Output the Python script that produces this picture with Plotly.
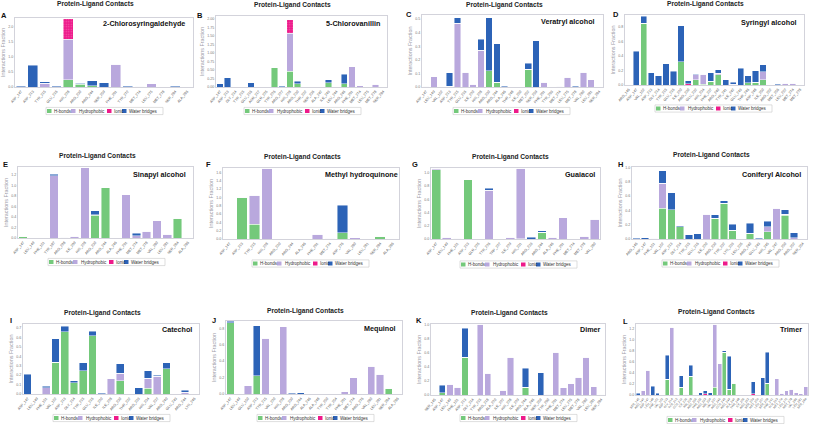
import plotly.graph_objects as go

W, H = 813, 424
series_names = ['H-bonds', 'Hydrophobic', 'Ionic', 'Water bridges']
series_colors = ['#74c97b', '#b9a8dd', '#ee1a8a', '#2c63b7']
compound_names = ['2-Chlorosyringaldehyde', '5-Chlorovanillin', 'Veratryl alcohol', 'Syringyl alcohol',
                  'Sinapyl alcohol', 'Methyl hydroquinone', 'Guaiacol', 'Coniferyl Alcohol',
                  'Catechol', 'Mequinol', 'Dimer', 'Trimer']
panel_letters = ['A', 'B', 'C', 'D', 'E', 'F', 'G', 'H', 'I', 'J', 'K', 'L']
chart_title = 'Protein-Ligand Contacts'
y_title = 'Interactions Fraction'

# ---------------- data ----------------
A_res = ['ASP_147', 'ASP_213', 'TYR_215', 'GLU_216', 'HIS_228', 'ARG_230', 'ARG_244', 'SER_259', 'PHE_261',
         'TYR_272', 'MET_274', 'LEU_275', 'MET_278', 'SER_284', 'ALA_286']
A_hb = [0, 0, 0, 0, 0.24, 0.09, 0.04, 0, 0, 0, 0, 0, 0, 0, 0]
A_hp = [0, 0, 0.12, 0, 1.34, 0.02, 0, 0, 0.76, 0, 0.02, 0.10, 0, 0, 0]
A_io = [0, 0, 0, 0, 0.67, 0, 0, 0, 0, 0, 0, 0, 0, 0, 0]
A_wb = [0.03, 0.72, 0.05, 0.02, 0, 0.01, 0.17, 0.14, 0, 0.02, 0, 0, 0, 0.02, 0]

B_res = ['ASP_147', 'ASP_213', 'GLY_214', 'TYR_215', 'GLU_216', 'ASN_217', 'GLN_225', 'TYR_226', 'ARG_227',
         'HIS_228', 'ARG_230', 'THR_232', 'SER_236', 'ALA_242', 'ILE_243', 'LEU_244', 'ARG_246', 'PHE_261',
         'MET_274', 'LEU_275', 'MET_278', 'SER_284']
B_hb = [0, 0, 0, 0, 0, 0, 0, 0.56, 0, 0.47, 0.10, 0, 0, 0, 0.12, 0, 0.10, 0, 0, 0, 0, 0]
B_hp = [0, 0, 0, 0, 0, 0, 0, 0, 0, 1.11, 0, 0, 0, 0.01, 0, 0, 0, 0.60, 0.04, 0.01, 0.08, 0]
B_io = [0, 0, 0, 0, 0, 0, 0, 0, 0, 0.40, 0, 0, 0, 0, 0, 0, 0, 0, 0, 0, 0, 0]
B_wb = [0.10, 0.27, 0.01, 0, 0.13, 0, 0, 0, 0.02, 0, 0.07, 0, 0, 0, 0.10, 0, 0.27, 0, 0, 0, 0, 0]

C_res = ['ASP_147', 'LEU_149', 'VAL_152', 'ASP_213', 'TYR_215', 'GLU_216', 'ILE_220', 'HIS_228', 'ARG_230',
         'ARG_244', 'ALA_246', 'THR_248', 'ILE_250', 'MET_252', 'SER_259', 'PHE_261', 'TYR_263', 'MET_274',
         'LEU_275', 'MET_278', 'VAL_280', 'LEU_281', 'SER_284']
C_hb = [0, 0, 0, 0.005, 0, 0, 0, 0, 0.12, 0.035, 0, 0, 0, 0.13, 0, 0, 0, 0, 0, 0, 0, 0, 0]
C_hp = [0.005, 0.075, 0, 0, 0.47, 0.11, 0.02, 0.27, 0, 0, 0, 0, 0, 0, 0, 0.035, 0, 0.005, 0.07, 0, 0.11, 0.055, 0]
C_io = [0] * 23
C_wb = [0, 0, 0, 0.10, 0.04, 0, 0, 0.08, 0.39, 0.285, 0.005, 0, 0, 0.045, 0.34, 0, 0, 0, 0, 0.005, 0, 0, 0]

D_res = ['ARG_146', 'ASP_147', 'VAL_152', 'ASP_213', 'GLY_214', 'TYR_215', 'GLU_216', 'ILE_220', 'ARG_230',
         'GLU_232', 'HIS_234', 'PHE_237', 'ARG_240', 'TYR_241', 'ILE_242', 'GLU_243', 'THR_246', 'ASP_248',
         'ILE_250', 'ARG_252', 'MET_256', 'LEU_257', 'MET_274', 'MET_278']
D_hb = [0, 0, 0.85, 0, 0, 0, 0, 0.32, 0, 0.07, 0.01, 0.05, 0.14, 0, 0, 0, 0.03, 0.04, 0.07, 0, 0, 0, 0, 0]
D_hp = [0, 0, 0, 0, 0, 0, 0, 0, 0, 0.07, 0.14, 0, 0.02, 0, 0.01, 0, 0, 0, 0.11, 0.005, 0, 0.025, 0.025, 0]
D_io = [0, 0, 0, 0, 0, 0, 0, 0, 0.02, 0, 0, 0, 0, 0, 0, 0, 0, 0, 0, 0, 0, 0, 0, 0]
D_wb = [0, 0.46, 0.09, 0.165, 0.13, 0.29, 0.19, 0.49, 0.035, 0.01, 0, 0.115, 0.05, 0.07, 0.03, 0.23, 0.10,
        0.155, 0.10, 0, 0.01, 0, 0, 0]

E_res = ['ASP_147', 'LEU_149', 'PHE_151', 'TYR_187', 'ARG_208', 'ILE_209', 'HIS_228', 'ARG_230', 'ARG_244',
         'ALA_246', 'PHE_261', 'MET_274', 'MET_278', 'VAL_280', 'LEU_281', 'SER_284', 'ALA_286']
E_hb = [0.03, 0, 0, 0, 0, 0, 0, 0.43, 0.96, 0, 0, 0, 0, 0, 0, 0.38, 0]
E_hp = [0, 0, 0, 1.18, 0.01, 0.035, 1.34, 0.01, 0, 0, 0.82, 0.04, 0.13, 0.33, 0.07, 0, 0]
E_io = [0] * 17
E_wb = [0, 0, 0, 0.03, 0, 0, 0, 0.08, 0, 0, 0, 0.05, 0, 0, 0, 0, 0]

F_res = ['ASP_147', 'ASP_213', 'TYR_215', 'HIS_228', 'ARG_230', 'ARG_244', 'ALA_246', 'PHE_261', 'MET_274',
         'ASP_276', 'VAL_280', 'LEU_281', 'SER_284', 'ALA_286']
F_hb = [0, 0.99, 0.36, 0, 0, 0, 0, 0, 0, 0.15, 0, 0, 0.07, 0]
F_hp = [0, 0.01, 0.69, 1.71, 0, 0, 0, 0.11, 0.02, 0, 0.03, 0, 0, 0]
F_io = [0] * 14
F_wb = [0, 0, 0, 0, 0, 0, 0, 0, 0, 0.66, 0, 0, 0, 0]

G_res = ['ASP_147', 'LEU_149', 'PHE_151', 'ASP_213', 'GLN_225', 'TYR_226', 'TRP_227', 'ILE_229', 'HIS_231',
         'ARG_233', 'ARG_244', 'ALA_246', 'PHE_261', 'MET_274', 'MET_278', 'VAL_280']
G_hb = [1.05, 0, 0, 0.90, 0, 0, 0, 0, 0.005, 0, 0.10, 0, 0, 0, 0, 0]
G_hp = [0.02, 0.025, 0.01, 0, 0.005, 0.74, 0, 0.025, 1.07, 0, 0, 0.03, 0.32, 0.005, 0.04, 0.30]
G_io = [0] * 16
G_wb = [0, 0, 0, 0, 0, 0.03, 0, 0, 0, 0.03, 0.025, 0, 0, 0, 0, 0]

H_res = ['ARG_146', 'ASP_147', 'PHE_151', 'VAL_152', 'ASP_213', 'GLY_214', 'TYR_215', 'GLU_216', 'ILE_220',
         'ARG_230', 'TYR_232', 'LYS_233', 'LEU_235', 'ARG_240', 'GLU_243', 'HIS_245', 'VAL_247', 'ARG_250',
         'ARG_252', 'SER_254']
H_hb = [0, 0, 0, 0.43, 0.41, 0.17, 0, 0, 0, 0.29, 0.50, 0.12, 0, 0.08, 0, 0.10, 0, 0.33, 0, 0]
H_hp = [0, 0, 0.01, 0.35, 0, 0, 0, 0, 0.35, 0, 0, 0, 0, 0, 0, 0.07, 0.43, 0.02, 0.02, 0]
H_io = [0] * 20
H_wb = [0.01, 0.02, 0, 0.18, 0.24, 0.015, 0.06, 0.075, 0, 0.05, 0.04, 0.09, 0, 0.14, 0.01, 0.08, 0, 0.06, 0.07, 0]

I_res = ['ASP_147', 'LEU_149', 'PHE_151', 'VAL_152', 'ASP_213', 'GLY_214', 'TYR_215', 'GLU_216', 'ILE_220',
         'ILE_228', 'ARG_230', 'THR_232', 'ARG_233', 'HIS_234', 'VAL_237', 'ARG_240', 'GLU_243', 'ARG_244',
         'LYS_246']
I_hb = [0, 0, 0, 0.34, 0.66, 0.12, 0.25, 0.62, 0, 0, 0.14, 0, 0, 0.06, 0, 0.27, 0, 0, 0]
I_hp = [0, 0.005, 0.065, 0, 0, 0, 0, 0, 0, 0.16, 0.08, 0.005, 0, 0.11, 0.19, 0, 0, 0.02, 0]
I_io = [0] * 19
I_wb = [0.21, 0, 0.015, 0.25, 0.06, 0.02, 0.08, 0.05, 0.01, 0, 0.10, 0, 0.065, 0.08, 0.01, 0.065, 0, 0.02, 0]

J_res = ['ASP_147', 'LEU_149', 'GLU_150', 'ASP_213', 'TYR_215', 'VAL_220', 'HIS_228', 'ARG_230', 'ARG_244',
         'ALA_246', 'ALA_248', 'TYR_250', 'TYR_254', 'PHE_261', 'MET_274', 'ARG_276', 'VAL_280', 'LEU_281',
         'SER_284', 'ALA_286']
J_hb = [0.87, 0, 0, 0.22, 0, 0, 0, 0, 0, 0, 0, 0, 0, 0, 0, 0, 0, 0, 0.07, 0]
J_hp = [0, 0, 0.10, 0, 0.68, 0.005, 0.82, 0, 0, 0.005, 0, 0, 0, 0.03, 0.20, 0, 0.34, 0.24, 0, 0]
J_io = [0] * 20
J_wb = [0.015, 0, 0, 0.61, 0, 0, 0, 0.01, 0.015, 0, 0, 0, 0, 0, 0, 0, 0, 0, 0, 0]

K_res = ['SER_145', 'ASP_147', 'LEU_149', 'PHE_151', 'ASP_213', 'GLY_214', 'TYR_215', 'ARG_218', 'ALA_220',
         'ILE_222', 'HIS_228', 'ILE_229', 'ARG_244', 'ALA_246', 'SER_259', 'TYR_260', 'PHE_261', 'MET_274',
         'LEU_275', 'MET_278', 'VAL_280', 'LEU_281', 'SER_284']
K_hb = [0, 0.03, 0, 0, 0.54, 0, 0, 0, 0, 0, 0, 0, 0.11, 0, 0, 0, 0, 0, 0, 0, 0, 0, 0.01]
K_hp = [0.005, 0, 0.15, 0.11, 0, 0, 1.01, 0.31, 0, 0.07, 0.54, 0, 0, 0, 0, 0.01, 0.61, 0.10, 0.16, 0.25,
        0.54, 0.12, 0]
K_io = [0] * 23
K_wb = [0, 0.11, 0, 0, 0.41, 0, 0, 0, 0, 0, 0, 0, 0.27, 0, 0.32, 0, 0, 0, 0, 0, 0, 0, 0]

L_res = ['SER_145', 'ARG_146', 'ASP_147', 'LEU_149', 'PHE_151', 'VAL_152', 'ASP_213', 'GLY_214', 'TYR_215',
         'GLU_216', 'ILE_220', 'HIS_228', 'ARG_230', 'THR_232', 'ARG_233', 'HIS_234', 'VAL_237', 'ARG_240',
         'GLU_243', 'ARG_244', 'ALA_246', 'THR_248', 'ILE_250', 'ARG_252', 'SER_254', 'MET_256', 'LEU_257',
         'SER_259', 'PHE_261', 'TYR_263', 'MET_274', 'LEU_275', 'MET_278', 'VAL_280', 'LEU_281', 'SER_284']
L_hb = [0, 0, 0, 0, 0, 0, 0.28, 0, 0, 0.14, 0, 0.34, 0, 0, 0, 0, 0.14, 0, 0.77, 0.10, 0.20, 0, 0, 0, 0, 0,
        0, 0.21, 0, 0, 0, 0, 0, 0, 0, 0]
L_hp = [0, 0.08, 0.45, 0, 0, 0.005, 0, 1.22, 0, 0, 0.01, 0, 0.005, 0, 0, 0, 1.14, 0.56, 0, 0, 0.01, 0, 0.005,
        0.005, 0, 0, 0, 0, 0, 0.29, 0.03, 0.08, 0.10, 0.04, 0.02, 0.15]
L_io = [0, 0, 0, 0, 0, 0, 0, 0, 0, 0, 0, 0, 0, 0, 0.02, 0, 0, 0, 0, 0, 0, 0, 0, 0, 0.02, 0, 0, 0, 0, 0, 0, 0,
        0, 0, 0, 0]
L_wb = [0.03, 0, 0, 0.16, 0.03, 0, 0.44, 0, 0, 0.21, 0, 0.20, 0, 0.04, 0.06, 0.04, 0, 0, 0.03, 0.60, 0, 0, 0,
        0, 0.22, 0, 0.31, 0.56, 0, 0, 0, 0, 0, 0, 0, 0]

panels = [
    (A_res, A_hb, A_hp, A_io, A_wb), (B_res, B_hb, B_hp, B_io, B_wb),
    (C_res, C_hb, C_hp, C_io, C_wb), (D_res, D_hb, D_hp, D_io, D_wb),
    (E_res, E_hb, E_hp, E_io, E_wb), (F_res, F_hb, F_hp, F_io, F_wb),
    (G_res, G_hb, G_hp, G_io, G_wb), (H_res, H_hb, H_hp, H_io, H_wb),
    (I_res, I_hb, I_hp, I_io, I_wb), (J_res, J_hb, J_hp, J_io, J_wb),
    (K_res, K_hb, K_hp, K_io, K_wb), (L_res, L_hb, L_hp, L_io, L_wb),
]

# y axis scale settings
y_max = [2.28, 2.09, 0.53, 0.96, 1.35, 1.71, 1.075, 1.01, 0.745, 0.89, 1.01, 1.28]
y_dtick = [0.5, 0.25, 0.1, 0.2, 0.2, 0.2, 0.2, 0.2, 0.1, 0.2, 0.2, 0.2]
y_fmt = ['.1f', '.2f', '.1f', '.1f', '.1f', '.1f', '.1f', '.1f', '.1f', '.1f', '.1f', '.1f']

# ---------------- layout (pixel geometry) ----------------
boxes = [  # left, right, top, bottom
    (15, 193, 18, 87), (216, 387, 16, 87), (422, 603, 15, 87), (625, 804, 15, 85),
    (18, 193, 167, 238), (223, 399, 168, 239), (431, 600, 168, 239), (632, 807, 167, 239),
    (23, 199, 324, 394), (226, 402, 321, 394), (431, 605, 324, 395), (636, 808, 324, 395),
]
title_pos = [(95, 4.5), (292, 5), (504, 5), (705, 4), (97.5, 156), (302, 156.5), (510, 156.5), (711, 155),
             (102.5, 312.5), (305.5, 310.5), (509.5, 312.5), (716, 311.5)]
name_pos = [(187, 23.5), (382, 23.5), (597, 21.5), (799, 22.5), (188, 174.5), (400, 174.5), (597, 174.5),
            (803, 174.5), (194, 329.5), (398, 328), (603, 329.5), (804, 329.5)]
letter_pos = [(4, 16), (199.5, 16), (409.5, 15), (616, 15), (5, 164.5), (208.5, 164.5), (414.5, 164),
              (620.5, 164), (10.5, 320.5), (213.5, 320), (418.5, 320.5), (625, 321.5)]
legend_pos = [(46, 111), (244, 111), (453, 111), (655, 108.5), (48, 262), (252, 263.5), (460, 264.5),
              (662, 263.5), (53, 418), (257, 418), (460, 418), (667, 420)]
legend_sw = [1, 25, 61, 76]
legend_tx = [6, 31, 66, 81]
legend_w = 117

FONT = 'Liberation Sans, Arial, sans-serif'


def px(x):
    return x / W


def py(y):
    return 1 - y / H


fig = go.Figure()
layout = dict(
    width=W, height=H, margin=dict(l=0, r=0, t=0, b=0),
    paper_bgcolor='white', plot_bgcolor='white', barmode='stack', bargap=0.17,
    showlegend=False, font=dict(family=FONT),
)
annotations = []
shapes = []

for i, (res, hb, hp, io, wb) in enumerate(panels):
    n = '' if i == 0 else str(i + 1)
    xa, ya = 'x' + n, 'y' + n
    for k, vals in enumerate([hb, hp, io, wb]):
        marker = dict(color=series_colors[k], line=dict(color='rgba(255,255,255,0.75)', width=0.6))
        if k == 2:
            marker['pattern'] = dict(shape='.', fgcolor='rgba(255,255,255,0.6)', size=2.5, solidity=0.25)
        fig.add_trace(go.Bar(x=res, y=vals, name=series_names[k], marker=marker,
                             xaxis=xa, yaxis=ya, showlegend=False))
    l, r, t, b = boxes[i]
    tick_sz = 3 if len(res) > 30 else 3.6
    layout['xaxis' + n] = dict(
        domain=[px(l), px(r)], anchor=ya, showline=True, mirror=True, linecolor='#d3d3db', linewidth=1,
        showgrid=False, zeroline=False, ticks='', tickangle=-50,
        tickfont=dict(size=tick_sz, color='#555'), automargin=False, fixedrange=True,
        categoryorder='array', categoryarray=res,
    )
    layout['yaxis' + n] = dict(
        domain=[py(b), py(t)], anchor=xa, range=[0, y_max[i]], dtick=y_dtick[i], tickformat=y_fmt[i],
        showline=True, mirror=True, linecolor='#d3d3db', linewidth=1, showgrid=False, zeroline=False,
        ticks='', tickfont=dict(size=3.6, color='#777'), automargin=False, fixedrange=True,
        title=dict(text=y_title, font=dict(size=5.4, color='#a0a0aa'), standoff=2),
    )
    tx, ty = title_pos[i]
    annotations.append(dict(text='<b>' + chart_title + '</b>', x=px(tx), y=py(ty), xref='paper', yref='paper',
                            showarrow=False, xanchor='center', yanchor='middle',
                            font=dict(size=6.6, color='#222', family=FONT)))
    nx, ny = name_pos[i]
    annotations.append(dict(text='<b>' + compound_names[i] + '</b>', x=px(nx), y=py(ny), xref='paper',
                            yref='paper', showarrow=False, xanchor='right', yanchor='middle',
                            font=dict(size=7.2, color='#111', family=FONT)))
    lx, ly = letter_pos[i]
    annotations.append(dict(text='<b>' + panel_letters[i] + '</b>', x=px(lx), y=py(ly), xref='paper',
                            yref='paper', showarrow=False, xanchor='center', yanchor='middle',
                            font=dict(size=7.5, color='#111', family=FONT)))
    gx, gy = legend_pos[i]
    shapes.append(dict(type='rect', xref='paper', yref='paper', x0=px(gx), x1=px(gx + legend_w),
                       y0=py(gy + 3.6), y1=py(gy - 3.6), line=dict(color='#c8c8c8', width=0.6),
                       fillcolor='white', layer='below'))
    for k in range(4):
        sx = gx + legend_sw[k]
        shapes.append(dict(type='rect', xref='paper', yref='paper', x0=px(sx), x1=px(sx + 4.5),
                           y0=py(gy + 2), y1=py(gy - 2), line=dict(width=0), fillcolor=series_colors[k]))
        annotations.append(dict(text=series_names[k], x=px(gx + legend_tx[k]), y=py(gy), xref='paper',
                                yref='paper', showarrow=False, xanchor='left', yanchor='middle',
                                font=dict(size=4.5, color='#333', family=FONT)))

layout['annotations'] = annotations
layout['shapes'] = shapes
fig.update_layout(**layout)
fig.write_html('out.html', config={'displayModeBar': False, 'staticPlot': True},
               post_script="document.body.style.margin='0';")
